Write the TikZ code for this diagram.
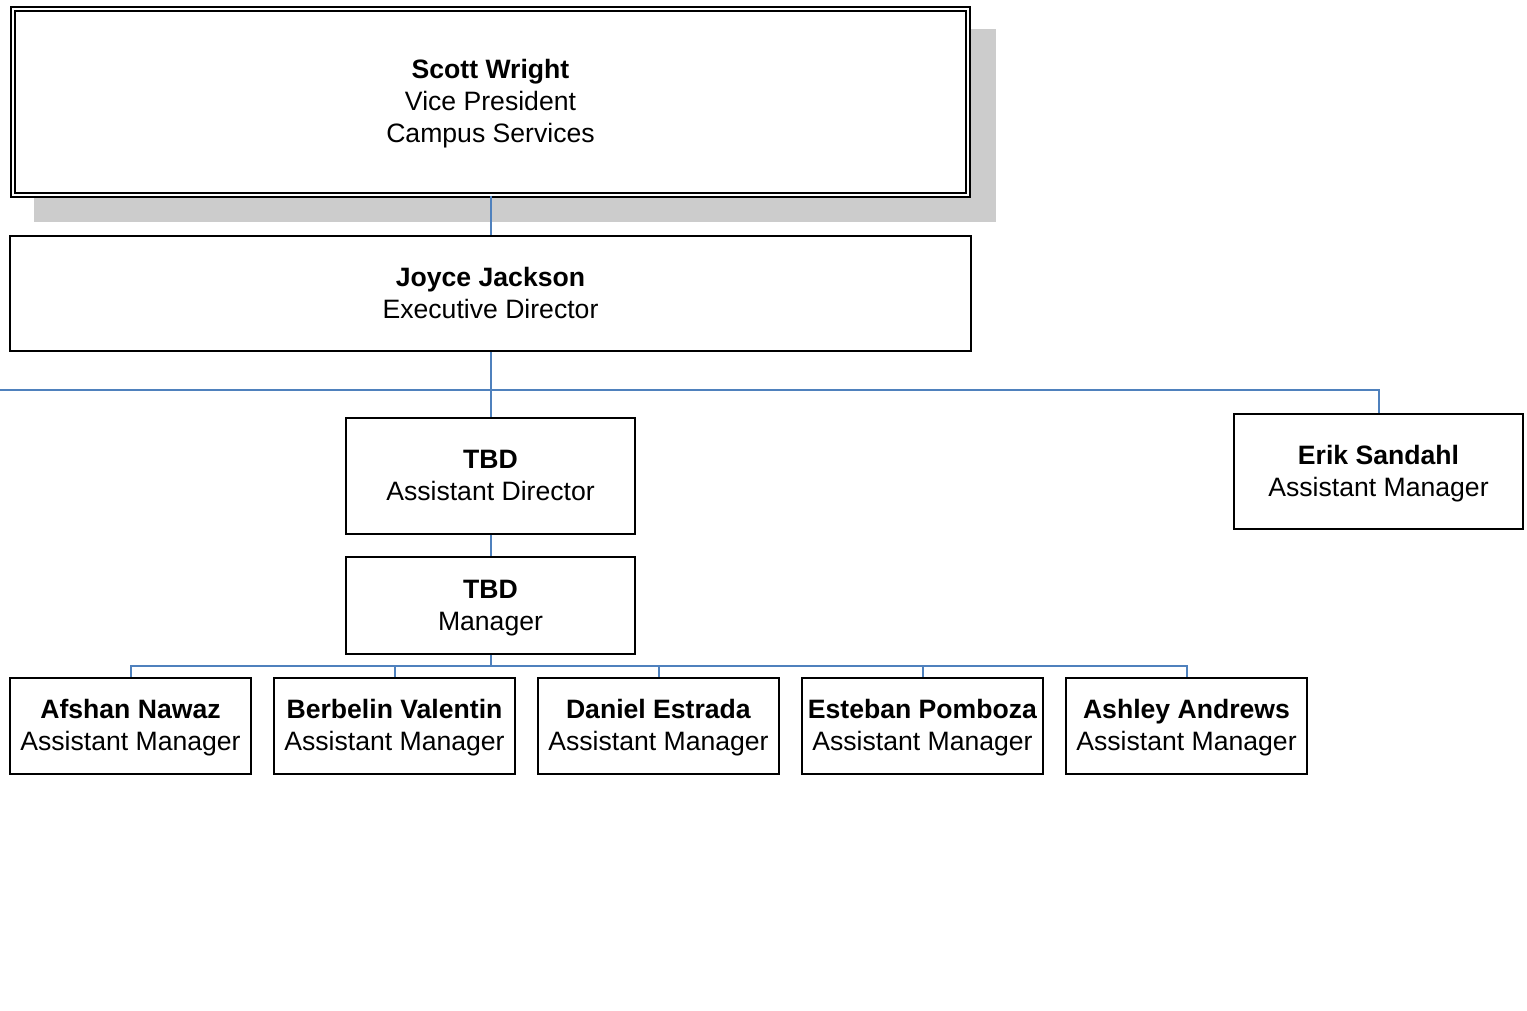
\documentclass[tikz,border=0pt]{standalone}
\usepackage{fontspec}
\setmainfont{Liberation Sans}
\definecolor{linkblue}{HTML}{4F81BD}
\definecolor{shadowgray}{HTML}{CCCCCC}
\newcommand\boxtext[1]{\raisebox{-1.25pt}[\height][\depth]{\begin{tabular}{@{}c@{}}#1\end{tabular}}}
\begin{document}
\begin{tikzpicture}[x=0.5pt,y=-0.5pt,
  box/.style={draw=black,line width=1pt,fill=white,inner sep=0pt,
    font=\fontsize{13.3}{16}\selectfont},
  link/.style={draw=linkblue,line width=1pt}]
\useasboundingbox[fill=white] (0,0) rectangle (1527,1011);
% shadow of top box
\fill[shadowgray] (34,29) rectangle (996,222);
% nodes
\node[box,double,double distance=1pt,line width=1pt,minimum width=477.5pt,minimum height=93pt] (scott) at (490.5,102) {\boxtext{\textbf{Scott Wright}\\Vice President\\Campus Services}};
\node[box,minimum width=480.5pt,minimum height=57.5pt] (joyce) at (490.5,293.5) {\boxtext{\textbf{Joyce Jackson}\\Executive Director}};
\node[box,minimum width=144.5pt,minimum height=58pt] (tbdad) at (490.5,476) {\boxtext{\textbf{TBD}\\Assistant Director}};
\node[box,minimum width=144.5pt,minimum height=48.5pt] (tbdm) at (490.5,605.5) {\boxtext{\textbf{TBD}\\Manager}};
\node[box,minimum width=144.5pt,minimum height=57.5pt] (erik) at (1378.5,471.5) {\boxtext{\textbf{Erik Sandahl}\\Assistant Manager}};
\node[box,minimum width=120.5pt,minimum height=48pt] (afshan) at (130.5,726) {\boxtext{\textbf{Afshan Nawaz}\\Assistant Manager}};
\node[box,minimum width=120.5pt,minimum height=48pt] (berbelin) at (394.5,726) {\boxtext{\textbf{Berbelin Valentin}\\Assistant Manager}};
\node[box,minimum width=120.5pt,minimum height=48pt] (daniel) at (658.5,726) {\boxtext{\textbf{Daniel Estrada}\\Assistant Manager}};
\node[box,minimum width=120.5pt,minimum height=48pt] (esteban) at (922.5,726) {\boxtext{\textbf{Esteban Pomboza}\\Assistant Manager}};
\node[box,minimum width=120.5pt,minimum height=48pt] (ashley) at (1186.5,726) {\boxtext{\textbf{Ashley Andrews}\\Assistant Manager}};
\coordinate (leftend) at (0,390);
\coordinate (busA) at (490.5,390);
\coordinate (busB) at (490.5,666);
% connectors
\draw[link] (scott.south) -- (joyce.north);
\draw[link] (joyce.south) -- (tbdad.north);
\draw[link] (leftend) -- (busA) -| (erik.north);
\draw[link] (tbdad.south) -- (tbdm.north);
\draw[link] (tbdm.south) -- (busB);
\foreach \n in {afshan,berbelin,daniel,esteban,ashley}{
  \draw[link] (busB) -| (\n.north);
}
\end{tikzpicture}
\end{document}
